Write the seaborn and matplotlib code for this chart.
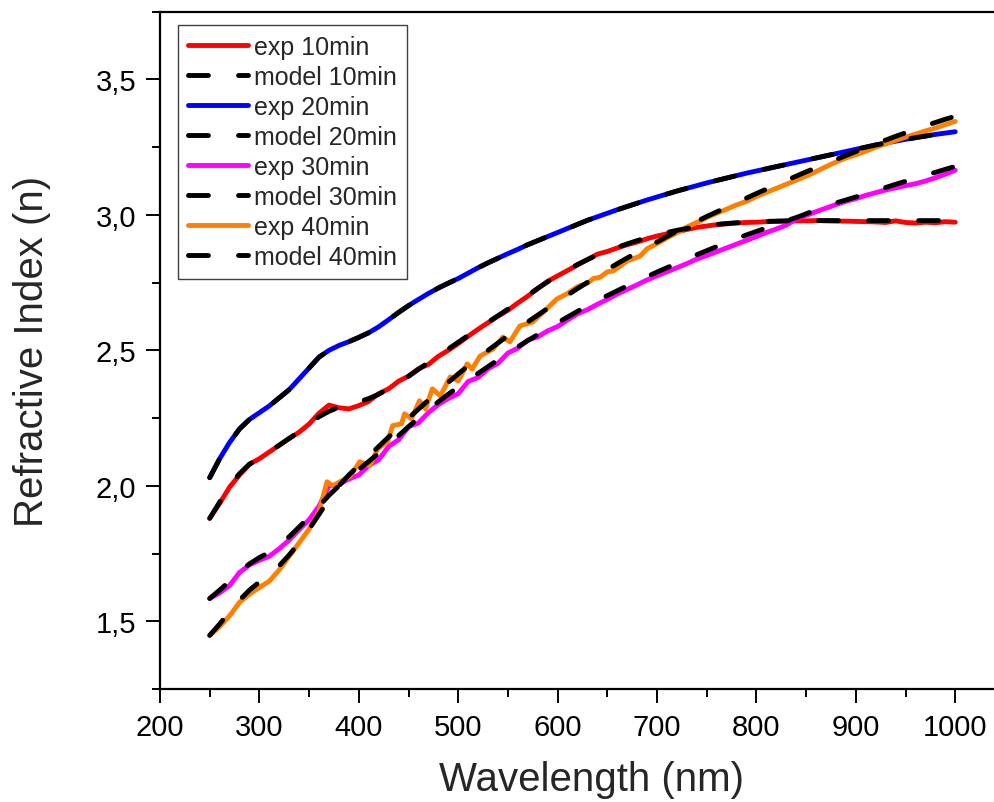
import numpy as np
import pandas as pd
import matplotlib
matplotlib.use("Agg")
import matplotlib.pyplot as plt
from matplotlib.ticker import MultipleLocator, FixedLocator, FixedFormatter
import seaborn as sns

wavelength = list(range(250, 1001, 10))

exp_10 = [1.880, 1.935, 1.995, 2.040, 2.080, 2.100, 2.125, 2.150, 2.175, 2.198,
          2.228, 2.268, 2.298, 2.288, 2.284, 2.296, 2.312, 2.340, 2.358, 2.386,
          2.405, 2.432, 2.448, 2.478, 2.500, 2.525, 2.552, 2.578, 2.602, 2.626,
          2.648, 2.675, 2.700, 2.728, 2.755, 2.775, 2.795, 2.815, 2.835, 2.855,
          2.865, 2.878, 2.890, 2.900, 2.912, 2.922, 2.930, 2.938, 2.946, 2.954,
          2.959, 2.964, 2.967, 2.970, 2.972, 2.973, 2.975, 2.976, 2.977, 2.978,
          2.978, 2.979, 2.978, 2.977, 2.977, 2.976, 2.975, 2.974, 2.972, 2.978,
          2.972, 2.970, 2.973, 2.971, 2.975, 2.973]
model_10 = [1.880, 1.940, 2.000, 2.045, 2.080, 2.100, 2.125, 2.150, 2.175, 2.200,
            2.228, 2.255, 2.275, 2.290, 2.300, 2.310, 2.322, 2.338, 2.358, 2.380,
            2.404, 2.430, 2.455, 2.480, 2.505, 2.530, 2.555, 2.580, 2.604, 2.628,
            2.652, 2.678, 2.703, 2.729, 2.753, 2.776, 2.797, 2.817, 2.835, 2.852,
            2.867, 2.880, 2.893, 2.905, 2.916, 2.926, 2.935, 2.943, 2.950, 2.956,
            2.961, 2.965, 2.968, 2.971, 2.973, 2.975, 2.976, 2.977, 2.978, 2.979,
            2.979, 2.979, 2.979, 2.979, 2.979, 2.979, 2.979, 2.979, 2.979, 2.979,
            2.979, 2.979, 2.979, 2.979, 2.979, 2.979]
exp_20 = [2.030, 2.100, 2.160, 2.210, 2.245, 2.270, 2.295, 2.325, 2.355, 2.395,
          2.435, 2.475, 2.500, 2.518, 2.532, 2.548, 2.565, 2.587, 2.613, 2.640,
          2.665, 2.688, 2.710, 2.730, 2.748, 2.765, 2.785, 2.805, 2.823, 2.840,
          2.857, 2.873, 2.890, 2.905, 2.920, 2.935, 2.950, 2.965, 2.980, 2.993,
          3.006, 3.019, 3.031, 3.043, 3.055, 3.066, 3.077, 3.088, 3.098, 3.108,
          3.118, 3.127, 3.136, 3.145, 3.154, 3.162, 3.170, 3.178, 3.186, 3.194,
          3.202, 3.210, 3.218, 3.226, 3.234, 3.242, 3.250, 3.258, 3.265, 3.272,
          3.279, 3.285, 3.291, 3.297, 3.302, 3.307]
model_20 = list(exp_20)
exp_30 = [1.584, 1.605, 1.632, 1.680, 1.708, 1.725, 1.740, 1.768, 1.800, 1.838,
          1.875, 1.925, 2.000, 2.005, 2.025, 2.040, 2.075, 2.096, 2.145, 2.170,
          2.218, 2.232, 2.270, 2.300, 2.322, 2.340, 2.385, 2.400, 2.432, 2.452,
          2.490, 2.508, 2.538, 2.550, 2.572, 2.588, 2.612, 2.635, 2.650, 2.670,
          2.688, 2.708, 2.725, 2.742, 2.760, 2.775, 2.790, 2.805, 2.820, 2.837,
          2.850, 2.864, 2.878, 2.892, 2.906, 2.920, 2.935, 2.948, 2.962, 2.985,
          2.998, 3.012, 3.025, 3.038, 3.050, 3.060, 3.072, 3.082, 3.092, 3.100,
          3.108, 3.115, 3.125, 3.137, 3.150, 3.165]
model_30 = [1.584, 1.615, 1.648, 1.682, 1.712, 1.735, 1.755, 1.785, 1.812, 1.848,
            1.885, 1.925, 1.965, 2.000, 2.030, 2.060, 2.090, 2.120, 2.152, 2.185,
            2.218, 2.250, 2.280, 2.310, 2.338, 2.365, 2.390, 2.415, 2.440, 2.465,
            2.490, 2.513, 2.536, 2.558, 2.580, 2.602, 2.623, 2.644, 2.664, 2.684,
            2.702, 2.720, 2.738, 2.755, 2.772, 2.789, 2.805, 2.821, 2.837, 2.853,
            2.868, 2.883, 2.898, 2.912, 2.926, 2.939, 2.952, 2.965, 2.978, 2.990,
            3.004, 3.019, 3.032, 3.044, 3.055, 3.066, 3.078, 3.090, 3.101, 3.113,
            3.124, 3.135, 3.146, 3.157, 3.168, 3.179]

wavelength_40 = [250, 260, 270, 280, 290, 300, 310, 320, 330, 340, 350, 360, 368,
                 374, 381, 391, 401, 411, 419, 429, 434, 443, 446, 453, 461, 467,
                 474, 482, 492, 500, 509, 514, 522, 535, 545, 552, 562, 575, 589,
                 599, 610, 620, 630, 636, 643, 650, 656, 670, 683, 690, 703, 710,
                 723, 730, 743, 750, 760, 770, 780, 790, 800, 810, 820, 830, 840,
                 850, 860, 870, 880, 890, 900, 910, 920, 930, 940, 950, 960, 970,
                 980, 990, 1000]
exp_40 = [1.448, 1.480, 1.520, 1.570, 1.600, 1.625, 1.648, 1.690, 1.740, 1.790,
          1.840, 1.905, 2.015, 2.000, 2.015, 2.035, 2.089, 2.074, 2.137, 2.163,
          2.222, 2.229, 2.266, 2.247, 2.314, 2.284, 2.358, 2.332, 2.402, 2.387,
          2.450, 2.431, 2.479, 2.505, 2.549, 2.531, 2.590, 2.605, 2.653, 2.689,
          2.710, 2.735, 2.748, 2.765, 2.770, 2.790, 2.793, 2.830, 2.848, 2.875,
          2.900, 2.915, 2.940, 2.955, 2.977, 2.990, 3.006, 3.021, 3.037, 3.050,
          3.068, 3.083, 3.098, 3.113, 3.128, 3.143, 3.160, 3.178, 3.195, 3.210,
          3.222, 3.235, 3.250, 3.262, 3.275, 3.287, 3.298, 3.310, 3.320, 3.333,
          3.345]
model_40 = [1.448, 1.490, 1.535, 1.578, 1.615, 1.645, 1.675, 1.705, 1.745, 1.790,
            1.840, 1.895, 1.950, 2.000, 2.040, 2.075, 2.110, 2.145, 2.180, 2.215,
            2.250, 2.283, 2.316, 2.350, 2.382, 2.413, 2.443, 2.472, 2.500, 2.527,
            2.554, 2.580, 2.605, 2.630, 2.655, 2.680, 2.704, 2.728, 2.751, 2.775,
            2.798, 2.820, 2.841, 2.861, 2.881, 2.900, 2.920, 2.940, 2.958, 2.976,
            2.994, 3.011, 3.028, 3.045, 3.062, 3.079, 3.095, 3.111, 3.127, 3.143,
            3.159, 3.174, 3.189, 3.204, 3.219, 3.234, 3.248, 3.262, 3.276, 3.290,
            3.303, 3.316, 3.329, 3.341, 3.353, 3.364]

series_labels = ["exp 10min", "model 10min", "exp 20min", "model 20min",
                 "exp 30min", "model 30min", "exp 40min", "model 40min"]
series_x = [wavelength, wavelength, wavelength, wavelength,
            wavelength, wavelength, wavelength_40, wavelength]
series_values = [exp_10, model_10, exp_20, model_20, exp_30, model_30, exp_40, model_40]
series_colors = ["#FF0000", "#000000", "#0000FF", "#000000",
                 "#FF00FF", "#000000", "#FF8000", "#000000"]

x_ticks = [200, 300, 400, 500, 600, 700, 800, 900, 1000]
y_ticks = [1.5, 2.0, 2.5, 3.0, 3.5]
y_tick_labels = ["1,5", "2,0", "2,5", "3,0", "3,5"]

sns.set_style("ticks")
plt.rcParams["font.family"] = ["Liberation Sans", "DejaVu Sans"]

fig = plt.figure(figsize=(9.94, 8.03), dpi=100)
W, H = 994, 803
ax = fig.add_axes([160 / W, 113 / H, 835 / W, 677.3 / H])

for lab, xs, vals, col in zip(series_labels, series_x, series_values, series_colors):
    df = pd.DataFrame({"wavelength": xs, "n": vals})
    if lab.startswith("model"):
        sns.lineplot(data=df, x="wavelength", y="n", ax=ax, color=col, lw=3.5,
                     linestyle=(0, (4.1, 6.2)), dash_capstyle="round",
                     label=lab, zorder=3, sort=False)
    else:
        sns.lineplot(data=df, x="wavelength", y="n", ax=ax, color=col, lw=3.5,
                     solid_capstyle="round", solid_joinstyle="round",
                     label=lab, zorder=2, sort=False)

ax.set_xlim(200, 1040)
ax.set_ylim(1.25, 3.75)
ax.xaxis.set_major_locator(FixedLocator(x_ticks))
ax.xaxis.set_minor_locator(MultipleLocator(50))
ax.yaxis.set_major_locator(FixedLocator(y_ticks))
ax.yaxis.set_major_formatter(FixedFormatter(y_tick_labels))
ax.yaxis.set_minor_locator(MultipleLocator(0.25))

ax.tick_params(which="major", direction="out", length=10, width=1.4,
               labelsize=21, pad=7, color="black", labelcolor="black")
ax.tick_params(which="minor", direction="out", length=6, width=1.4, color="black")
ax.tick_params(top=False, right=False, which="both")

for s in ["left", "bottom", "top"]:
    ax.spines[s].set_linewidth(1.6)
    ax.spines[s].set_color("black")
ax.spines["right"].set_visible(False)

ax.set_xlabel("Wavelength (nm)", fontsize=29)
ax.set_ylabel("Refractive Index (n)", fontsize=29)
ax.xaxis.set_label_coords(0.517, -0.105)
ax.yaxis.set_label_coords(-0.131, 0.5)

leg = ax.legend(loc="upper left", bbox_to_anchor=(0.0216, 0.980), borderaxespad=0,
                fontsize=18, handlelength=2.4, handletextpad=0.25, labelspacing=0.24,
                borderpad=0.4, fancybox=False, framealpha=1, edgecolor="#404040")
leg.get_frame().set_linewidth(1.0)

fig.savefig("out.png", dpi=100)
